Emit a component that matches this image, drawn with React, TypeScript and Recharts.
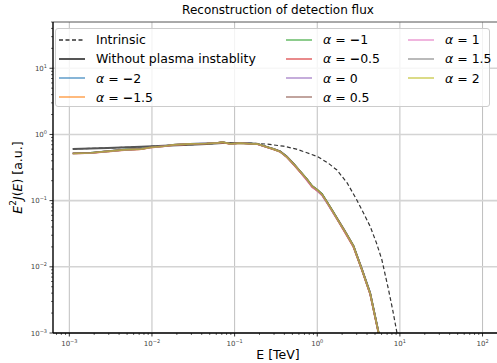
import React from 'react';
import { LineChart, Line, XAxis, YAxis, CartesianGrid, Legend, ReferenceLine } from 'recharts';

// energy grid (TeV) shared by the alpha runs
const energy = [0.0011, 0.0018, 0.0029, 0.0046, 0.0074, 0.0095, 0.014, 0.018, 0.029, 0.046, 0.063, 0.071, 0.089, 0.117, 0.15, 0.19, 0.245, 0.295, 0.355, 0.43, 0.52, 0.63, 0.75, 0.87, 1.0, 1.14, 1.35, 1.57, 1.85, 2.17, 2.74, 3.46, 4.36, 5.5, 6.0];

const alphaM2 = [0.52, 0.53, 0.56, 0.59, 0.605, 0.64, 0.67, 0.70, 0.72, 0.735, 0.75, 0.765, 0.725, 0.745, 0.73, 0.715, 0.645, 0.605, 0.555, 0.46, 0.355, 0.27, 0.21, 0.165, 0.145, 0.125, 0.09, 0.066, 0.047, 0.034, 0.0205, 0.0093, 0.0041, 0.00105, 0.0006];
const alphaM15 = [0.51, 0.525, 0.55, 0.585, 0.60, 0.63, 0.665, 0.695, 0.715, 0.73, 0.745, 0.755, 0.71, 0.74, 0.725, 0.71, 0.64, 0.60, 0.55, 0.455, 0.35, 0.265, 0.205, 0.16, 0.14, 0.122, 0.088, 0.065, 0.046, 0.033, 0.020, 0.009, 0.0039, 0.00101, 0.0006];
const alphaM1 = [0.515, 0.53, 0.555, 0.59, 0.61, 0.635, 0.665, 0.70, 0.72, 0.73, 0.745, 0.77, 0.72, 0.74, 0.73, 0.715, 0.645, 0.60, 0.555, 0.46, 0.36, 0.27, 0.21, 0.165, 0.145, 0.126, 0.09, 0.067, 0.047, 0.034, 0.021, 0.0092, 0.0040, 0.00104, 0.0006];
const alphaM05 = [0.52, 0.52, 0.56, 0.58, 0.60, 0.64, 0.665, 0.69, 0.72, 0.73, 0.75, 0.765, 0.72, 0.745, 0.725, 0.71, 0.64, 0.595, 0.55, 0.45, 0.35, 0.265, 0.205, 0.16, 0.142, 0.123, 0.089, 0.065, 0.046, 0.033, 0.0200, 0.0090, 0.0039, 0.00101, 0.0006];
const alpha0 = [0.51, 0.525, 0.555, 0.585, 0.605, 0.635, 0.67, 0.695, 0.72, 0.735, 0.745, 0.77, 0.72, 0.74, 0.73, 0.71, 0.645, 0.60, 0.55, 0.455, 0.355, 0.27, 0.205, 0.162, 0.14, 0.121, 0.088, 0.065, 0.047, 0.034, 0.0205, 0.0093, 0.0040, 0.00103, 0.0006];
const alphaP05 = [0.52, 0.53, 0.555, 0.59, 0.60, 0.635, 0.665, 0.70, 0.715, 0.73, 0.75, 0.765, 0.725, 0.745, 0.725, 0.715, 0.645, 0.605, 0.555, 0.46, 0.36, 0.27, 0.21, 0.165, 0.145, 0.125, 0.09, 0.066, 0.048, 0.035, 0.021, 0.0094, 0.0041, 0.00105, 0.0006];
const alphaP1 = [0.515, 0.52, 0.55, 0.58, 0.60, 0.63, 0.66, 0.695, 0.72, 0.73, 0.745, 0.76, 0.715, 0.74, 0.73, 0.71, 0.64, 0.60, 0.545, 0.45, 0.35, 0.265, 0.20, 0.16, 0.14, 0.12, 0.087, 0.064, 0.046, 0.033, 0.020, 0.0091, 0.0039, 0.00102, 0.0006];
const alphaP15 = [0.52, 0.525, 0.56, 0.585, 0.605, 0.64, 0.67, 0.70, 0.72, 0.735, 0.75, 0.77, 0.72, 0.745, 0.73, 0.715, 0.645, 0.605, 0.55, 0.46, 0.355, 0.27, 0.21, 0.165, 0.145, 0.124, 0.09, 0.066, 0.047, 0.034, 0.0205, 0.0092, 0.0040, 0.00103, 0.0006];
const alphaP2 = [0.515, 0.525, 0.555, 0.585, 0.60, 0.635, 0.665, 0.695, 0.72, 0.73, 0.745, 0.765, 0.72, 0.74, 0.725, 0.715, 0.645, 0.60, 0.55, 0.455, 0.355, 0.27, 0.21, 0.165, 0.145, 0.125, 0.09, 0.066, 0.047, 0.034, 0.0205, 0.0092, 0.0040, 0.00103, 0.0006];

// without plasma instability
const energyNoPI = [0.0011, 0.0029, 0.0074, 0.014, 0.029, 0.046, 0.071, 0.117, 0.15, 0.19, 0.245, 0.295, 0.355, 0.43, 0.52, 0.63, 0.75, 0.87, 1.0, 1.14, 1.35, 1.57, 1.85, 2.17, 2.74, 3.46, 4.36, 5.5, 6.0];
const fluxNoPI = [0.605, 0.625, 0.65, 0.675, 0.70, 0.72, 0.74, 0.745, 0.735, 0.72, 0.65, 0.605, 0.555, 0.46, 0.355, 0.27, 0.21, 0.165, 0.145, 0.125, 0.09, 0.066, 0.047, 0.034, 0.0205, 0.0092, 0.0040, 0.00103, 0.0006];

// intrinsic spectrum
const energyIntr = [0.0011, 0.0029, 0.0074, 0.014, 0.029, 0.046, 0.071, 0.117, 0.15, 0.245, 0.39, 0.56, 0.75, 1.0, 1.35, 1.73, 2.3, 3.0, 3.6, 4.36, 5.2, 6.04, 7.26, 8.2, 9.18, 10.0];
const fluxIntr = [0.605, 0.625, 0.65, 0.675, 0.70, 0.72, 0.74, 0.745, 0.74, 0.715, 0.665, 0.60, 0.53, 0.465, 0.37, 0.29, 0.185, 0.103, 0.066, 0.041, 0.023, 0.0129, 0.0046, 0.0022, 0.00103, 0.0005];

const alphaLabels = ['-2', '-1.5', '-1', '-0.5', '0', '0.5', '1', '1.5', '2'];
const alphaColors = ['#1f77b4', '#ff7f0e', '#2ca02c', '#d62728', '#9467bd', '#8c564b', '#e377c2', '#7f7f7f', '#bcbd22'];
const alphaRuns = [alphaM2, alphaM15, alphaM1, alphaM05, alpha0, alphaP05, alphaP1, alphaP15, alphaP2];

const xMajor = [1e-3, 1e-2, 1e-1, 1, 10, 100];
const xMinor = [7e-4, 8e-4, 9e-4, 2e-3, 3e-3, 4e-3, 5e-3, 6e-3, 7e-3, 8e-3, 9e-3, 0.02, 0.03, 0.04, 0.05, 0.06, 0.07, 0.08, 0.09, 0.2, 0.3, 0.4, 0.5, 0.6, 0.7, 0.8, 0.9, 2, 3, 4, 5, 6, 7, 8, 9, 20, 30, 40, 50, 60, 70, 80, 90];
const yMajor = [1e-3, 1e-2, 1e-1, 1, 10];
const yMinor = [2e-3, 3e-3, 4e-3, 5e-3, 6e-3, 7e-3, 8e-3, 9e-3, 0.02, 0.03, 0.04, 0.05, 0.06, 0.07, 0.08, 0.09, 0.2, 0.3, 0.4, 0.5, 0.6, 0.7, 0.8, 0.9, 2, 3, 4, 5, 6, 7, 8, 9, 20, 30, 40, 50];

const X_MIN = Math.pow(10, -3.1975);
const X_MAX = Math.pow(10, 2.2475);
const Y_MIN = 1e-3;
const Y_MAX = 50;

const toPoints = (xs: number[], ys: number[]) => xs.map((E, i) => ({ E, v: ys[i] }));

const isMajor = (v: number) => Math.abs(Math.log10(v) - Math.round(Math.log10(v))) < 1e-6;
const expText = (v: number) => {
  const e = Math.round(Math.log10(v));
  return e < 0 ? '\u2212' + -e : String(e);
};

const XTick = (props: any) => {
  const { x, y, payload } = props;
  const major = isMajor(payload.value);
  return (
    <g>
      <line x1={x} x2={x} y1={y} y2={y + (major ? 3.5 : 2)} stroke="#000" strokeWidth={major ? 0.8 : 0.6} />
      {major && (
        <text x={x} y={y + 13} textAnchor="middle" fontSize={7} fill="#444">
          10<tspan dy={-3} fontSize={5}>{expText(payload.value)}</tspan>
        </text>
      )}
    </g>
  );
};

const YTick = (props: any) => {
  const { x, y, payload } = props;
  const major = isMajor(payload.value);
  return (
    <g>
      <line x1={x} x2={x - (major ? 3.5 : 2)} y1={y} y2={y} stroke="#000" strokeWidth={major ? 0.8 : 0.6} />
      {major && (
        <text x={x - 6} y={y + 2.5} textAnchor="end" fontSize={7} fill="#444">
          10<tspan dy={-3} fontSize={5}>{expText(payload.value)}</tspan>
        </text>
      )}
    </g>
  );
};

const legendItems = [
  { label: 'Intrinsic', color: '#333', dash: '4 2.5', width: 1.3, op: 1 },
  { label: 'Without plasma instablity', color: '#555', dash: undefined, width: 2, op: 1 },
  ...alphaLabels.map((a, i) => ({ label: a, color: alphaColors[i], dash: undefined, width: 1.8, op: 0.6, alpha: true })),
];

const colX = [3, 230, 352];
const rowY = [10.5, 29.7, 49, 68];

const AlphaText = ({ a }: { a: string }) => (
  <span>
    <i>α</i> = {a.startsWith('-') ? <span><b>−</b>{a.slice(1)}</span> : a}
  </span>
);

const LegendBox = () => (
  <div style={{ position: 'relative', width: 435, height: 79, background: 'rgba(255,255,255,0.8)', border: '1px solid #ccc', borderRadius: 3, boxSizing: 'border-box', fontFamily: '"DejaVu Sans", sans-serif', fontSize: 12.5, color: '#000' }}>
    {legendItems.map((it: any, i) => {
      const col = i < 4 ? 0 : i < 8 ? 1 : 2;
      const row = i < 4 ? i : i < 8 ? i - 4 : i - 8;
      return (
        <div key={i} style={{ position: 'absolute', left: colX[col], top: rowY[row] - 9, height: 18, display: 'flex', alignItems: 'center', whiteSpace: 'nowrap' }}>
          <svg width={26} height={18} style={{ marginRight: 11 }}>
            <line x1={0} x2={26} y1={9} y2={9} stroke={it.color} strokeOpacity={it.op} strokeWidth={it.width} strokeDasharray={it.dash} />
          </svg>
          {it.alpha ? <AlphaText a={it.label} /> : it.label}
        </div>
      );
    })}
  </div>
);

const YLabel = (props: any) => {
  const { viewBox } = props;
  const cy = viewBox.y + viewBox.height / 2;
  return (
    <text x={18} y={cy} transform={`rotate(-90, 18, ${cy})`} textAnchor="middle" dominantBaseline="middle" fontSize={12.5} fill="#000">
      <tspan fontStyle="italic">E</tspan>
      <tspan dy={-5} fontSize={9}>2</tspan>
      <tspan dy={5} fontStyle="italic">J</tspan>(<tspan fontStyle="italic">E</tspan>) [a.u.]
    </text>
  );
};

const XLabel = (props: any) => {
  const { viewBox } = props;
  const cx = viewBox.x + viewBox.width / 2;
  return (
    <text x={cx} y={359} textAnchor="middle" fontSize={12.5} fill="#000">
      E [TeV]
    </text>
  );
};

export default function App() {
  return (
    <div style={{ position: 'absolute', left: 0, top: 0, width: 497, height: 363, overflow: 'hidden', background: '#fff', fontFamily: '"DejaVu Sans", sans-serif' }}>
      <LineChart width={503} height={363} margin={{ top: 22, right: 0, bottom: 0, left: 0 }}>
        <CartesianGrid horizontal={false} verticalValues={xMajor} stroke="#b8b8b8" strokeWidth={0.9} />
        <CartesianGrid vertical={false} horizontalValues={yMajor} stroke="#d4d4d4" strokeWidth={1.6} />
        <XAxis
          dataKey="E"
          type="number"
          scale="log"
          domain={[X_MIN, X_MAX]}
          allowDataOverflow
          ticks={[...xMajor, ...xMinor].sort((a, b) => a - b)}
          interval={0}
          tick={<XTick />}
          tickLine={false}
          tickSize={0}
          tickMargin={0}
          height={30}
          axisLine={{ stroke: '#000', strokeWidth: 1.4 }}
          label={<XLabel />}
        />
        <YAxis
          type="number"
          scale="log"
          domain={[Y_MIN, Y_MAX]}
          allowDataOverflow
          ticks={[...yMajor, ...yMinor].sort((a, b) => a - b)}
          interval={0}
          tick={<YTick />}
          tickLine={false}
          tickSize={0}
          tickMargin={0}
          width={53}
          axisLine={{ stroke: '#000', strokeWidth: 1.4 }}
          label={<YLabel />}
        />
        <ReferenceLine y={Y_MAX} stroke="#555" strokeWidth={1} />
        <Line data={toPoints(energyIntr, fluxIntr)} dataKey="v" stroke="#333" strokeWidth={1.2} strokeDasharray="4 2.5" dot={false} isAnimationActive={false} />
        <Line data={toPoints(energyNoPI, fluxNoPI)} dataKey="v" stroke="#555" strokeWidth={2} dot={false} isAnimationActive={false} />
        {alphaRuns.map((vals, i) => (
          <Line key={i} data={toPoints(energy, vals)} dataKey="v" stroke={alphaColors[i]} strokeOpacity={0.6} strokeWidth={1.6} dot={false} isAnimationActive={false} />
        ))}
        <Legend
          layout="horizontal"
          verticalAlign="middle"
          align="center"
          content={<LegendBox />}
          wrapperStyle={{ left: 55, top: 28, width: 435, height: 79 }}
        />
      </LineChart>
      <div style={{ position: 'absolute', left: 53, top: 3, width: 450, textAlign: 'center', fontSize: 12, color: '#000', lineHeight: '14px' }}>
        Reconstruction of detection flux
      </div>
    </div>
  );
}
